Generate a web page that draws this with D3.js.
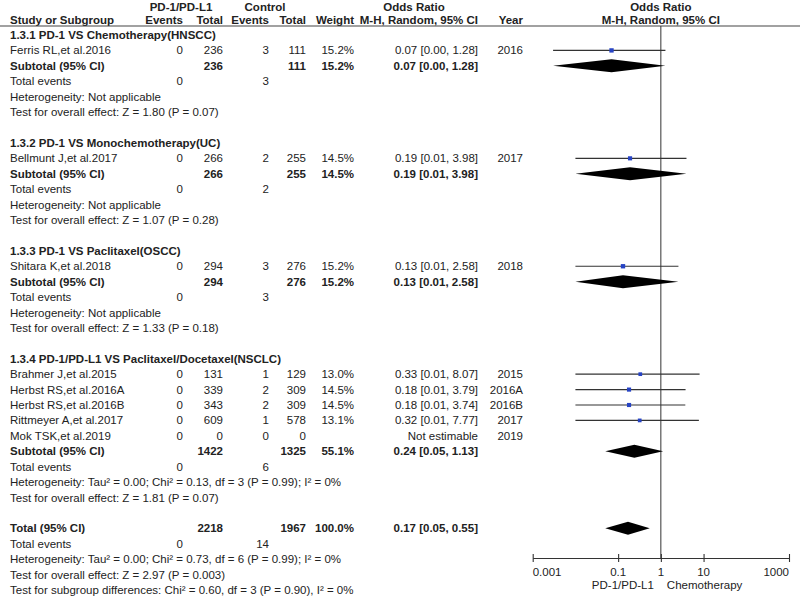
<!DOCTYPE html>
<html>
<head>
<meta charset="utf-8">
<script src="https://cdn.jsdelivr.net/npm/d3@7"></script>
<style>
  body { margin: 0; background: #fff; }
  text { font-family: "Liberation Sans", Arial, sans-serif; font-size: 11.5px; fill: #222; }
  .b { font-weight: bold; }
</style>
</head>
<body>
<div id="forest"></div>
<script>
// data
const groupTitles = ["1.3.1 PD-1 VS Chemotherapy(HNSCC)", "1.3.2 PD-1 VS Monochemotherapy(UC)",
  "1.3.3 PD-1 VS Paclitaxel(OSCC)", "1.3.4 PD-1/PD-L1 VS Paclitaxel/Docetaxel(NSCLC)"];
const studyNames = ["Ferris RL,et al.2016", "Bellmunt J,et al.2017", "Shitara K,et al.2018",
  "Brahmer J,et al.2015", "Herbst RS,et al.2016A", "Herbst RS,et al.2016B", "Rittmeyer A,et al.2017", "Mok TSK,et al.2019"];
const studyGroup = [0, 1, 2, 3, 3, 3, 3, 3];
const expEvents = [0, 0, 0, 0, 0, 0, 0, 0];
const expTotal = [236, 266, 294, 131, 339, 343, 609, 0];
const ctlEvents = [3, 2, 3, 1, 2, 2, 1, 0];
const ctlTotal = [111, 255, 276, 129, 309, 309, 578, 0];
const weights = [15.2, 14.5, 15.2, 13.0, 14.5, 14.5, 13.1, null];
const oddsRatio = [0.07, 0.19, 0.13, 0.33, 0.18, 0.18, 0.32, null];
const ciLow = [0.003, 0.01, 0.01, 0.01, 0.01, 0.01, 0.01, null];
const ciHigh = [1.28, 3.98, 2.58, 8.07, 3.79, 3.74, 7.77, null];
const years = ["2016", "2017", "2018", "2015", "2016A", "2016B", "2017", "2019"];

const subOR = [0.07, 0.19, 0.13, 0.24];
const subLow = [0.003, 0.01, 0.01, 0.05];
const subHigh = [1.28, 3.98, 2.58, 1.13];
const subHetero = ["Not applicable", "Not applicable", "Not applicable",
  "Tau\u00b2 = 0.00; Chi\u00b2 = 0.13, df = 3 (P = 0.99); I\u00b2 = 0%"];
const subEffect = ["Z = 1.80 (P = 0.07)", "Z = 1.07 (P = 0.28)", "Z = 1.33 (P = 0.18)", "Z = 1.81 (P = 0.07)"];

const totalOR = 0.17, totalLow = 0.05, totalHigh = 0.55;
const totalHetero = "Tau\u00b2 = 0.00; Chi\u00b2 = 0.73, df = 6 (P = 0.99); I\u00b2 = 0%";
const totalEffect = "Z = 2.97 (P = 0.003)";
const subgroupDiff = "Chi\u00b2 = 0.60, df = 3 (P = 0.90), I\u00b2 = 0%";

const axisTicks = [0.001, 0.1, 1, 10, 1000];
const axisLeftLabel = "PD-1/PD-L1", axisRightLabel = "Chemotherapy";

// layout
const width = 800, height = 596;
const col = {study: 10, expEv: 183, expTot: 223, ctlEv: 269, ctlTot: 306, weight: 354, or: 478, year: 523};
const f2 = d3.format(".2f");
const f1 = d3.format(".1f");
const orText = (o, l, h) => f2(o) + " [" + f2(l) + ", " + f2(h) + "]";

const svg = d3.select("#forest").append("svg")
  .attr("width", width).attr("height", height);

const y = d3.scaleLinear().domain([0, 36]).range([35, 590]);
const x = d3.scaleLog().domain([0.001, 1000]).range([532.7, 789]);
const axisY = 558, headLineY = 26, headTopY = 7;

// build rows
const rows = [];
let r = 0;
groupTitles.forEach((g, gi) => {
  rows.push({type: "group", i: gi, r: r++});
  studyGroup.forEach((sg, si) => { if (sg === gi) rows.push({type: "study", i: si, r: r++}); });
  rows.push({type: "sub", i: gi, r: r++});
  rows.push({type: "events", i: gi, r: r++});
  rows.push({type: "hetero", i: gi, r: r++});
  rows.push({type: "effect", i: gi, r: r++});
  r++;
});
const totalRow = r;

function txt(xp, yp, s, anchor, bold) {
  svg.append("text").attr("x", xp).attr("y", yp)
    .attr("dominant-baseline", "central")
    .attr("text-anchor", anchor || "start")
    .attr("class", bold ? "b" : null)
    .text(s);
}

// headers
txt(181, headTopY, "PD-1/PD-L1", "middle", true);
txt(265, headTopY, "Control", "middle", true);
txt(414, headTopY, "Odds Ratio", "middle", true);
txt(x(1), headTopY, "Odds Ratio", "middle", true);
txt(col.study, y(-1), "Study or Subgroup", "start", true);
txt(col.expEv, y(-1), "Events", "end", true);
txt(col.expTot, y(-1), "Total", "end", true);
txt(col.ctlEv, y(-1), "Events", "end", true);
txt(col.ctlTot, y(-1), "Total", "end", true);
txt(col.weight, y(-1), "Weight", "end", true);
txt(col.or, y(-1), "M-H, Random, 95% CI", "end", true);
txt(col.year, y(-1), "Year", "end", true);
txt(x(1), y(-1), "M-H, Random, 95% CI", "middle", true);

svg.append("line").attr("x1", 0).attr("x2", width)
  .attr("y1", headLineY).attr("y2", headLineY)
  .attr("stroke", "#444").attr("stroke-width", 1.2);

// no-effect line
svg.append("line").attr("x1", x(1)).attr("x2", x(1))
  .attr("y1", headLineY).attr("y2", axisY)
  .attr("stroke", "#333").attr("stroke-width", 1);

function diamond(o, l, h, yc) {
  const hh = 6.5;
  svg.append("path")
    .attr("d", "M" + x(l) + "," + yc + "L" + x(o) + "," + (yc - hh) +
      "L" + x(h) + "," + yc + "L" + x(o) + "," + (yc + hh) + "Z")
    .attr("fill", "#000");
}

const groupIdx = gi => studyGroup.map((g, i) => g === gi ? i : -1).filter(i => i >= 0);

rows.forEach(row => {
  const yy = y(row.r);
  const i = row.i;
  if (row.type === "group") {
    txt(col.study, yy, groupTitles[i], "start", true);
  } else if (row.type === "study") {
    txt(col.study, yy, studyNames[i]);
    txt(col.expEv, yy, expEvents[i], "end");
    txt(col.expTot, yy, expTotal[i], "end");
    txt(col.ctlEv, yy, ctlEvents[i], "end");
    txt(col.ctlTot, yy, ctlTotal[i], "end");
    if (weights[i] != null) txt(col.weight, yy, f1(weights[i]) + "%", "end");
    txt(col.or, yy, oddsRatio[i] == null ? "Not estimable" : orText(oddsRatio[i], ciLow[i], ciHigh[i]), "end");
    txt(col.year, yy, years[i], "end");
    if (oddsRatio[i] != null) {
      svg.append("line").attr("x1", x(ciLow[i])).attr("x2", x(ciHigh[i]))
        .attr("y1", yy).attr("y2", yy).attr("stroke", "#333").attr("stroke-width", 1.1);
      const s = weights[i] / 3.5;
      svg.append("rect").attr("x", x(oddsRatio[i]) - s / 2).attr("y", yy - s / 2)
        .attr("width", s).attr("height", s).attr("fill", "#2643c4");
    }
  } else if (row.type === "sub") {
    const idx = groupIdx(i);
    txt(col.study, yy, "Subtotal (95% CI)", "start", true);
    txt(col.expTot, yy, d3.sum(idx, k => expTotal[k]), "end", true);
    txt(col.ctlTot, yy, d3.sum(idx, k => ctlTotal[k]), "end", true);
    txt(col.weight, yy, f1(d3.sum(idx, k => weights[k] || 0)) + "%", "end", true);
    txt(col.or, yy, orText(subOR[i], subLow[i], subHigh[i]), "end", true);
    diamond(subOR[i], subLow[i], subHigh[i], yy);
  } else if (row.type === "events") {
    const idx = groupIdx(i);
    txt(col.study, yy, "Total events");
    txt(col.expEv, yy, d3.sum(idx, k => expEvents[k]), "end");
    txt(col.ctlEv, yy, d3.sum(idx, k => ctlEvents[k]), "end");
  } else if (row.type === "hetero") {
    txt(col.study, yy, "Heterogeneity: " + subHetero[i]);
  } else if (row.type === "effect") {
    txt(col.study, yy, "Test for overall effect: " + subEffect[i]);
  }
});

// overall total
let yy = y(totalRow);
txt(col.study, yy, "Total (95% CI)", "start", true);
txt(col.expTot, yy, d3.sum(expTotal), "end", true);
txt(col.ctlTot, yy, d3.sum(ctlTotal), "end", true);
txt(col.weight, yy, f1(d3.sum(weights, w => w || 0)) + "%", "end", true);
txt(col.or, yy, orText(totalOR, totalLow, totalHigh), "end", true);
diamond(totalOR, totalLow, totalHigh, yy);
yy = y(totalRow + 1);
txt(col.study, yy, "Total events");
txt(col.expEv, yy, d3.sum(expEvents), "end");
txt(col.ctlEv, yy, d3.sum(ctlEvents), "end");
txt(col.study, y(totalRow + 2), "Heterogeneity: " + totalHetero);
txt(col.study, y(totalRow + 3), "Test for overall effect: " + totalEffect);
txt(col.study, y(totalRow + 4), "Test for subgroup differences: " + subgroupDiff);

// log axis
const axis = svg.append("g").attr("transform", "translate(0," + axisY + ")");
axis.call(d3.axisBottom(x).tickValues(axisTicks).tickSize(0).tickFormat(""));
axis.select(".domain").attr("stroke", "#333").attr("stroke-width", 1.1);
axis.selectAll(".tick").each(function(d) {
  d3.select(this).append("line").attr("y1", -4).attr("y2", 4)
    .attr("stroke", "#333").attr("stroke-width", 1.1);
});
axisTicks.forEach((t, k) => {
  const anchor = k === 0 ? "start" : (k === axisTicks.length - 1 ? "end" : "middle");
  txt(x(t), axisY + 14, String(t), anchor);
});
txt(x(1) - 7, axisY + 27, axisLeftLabel, "end");
txt(x(1) + 6, axisY + 27, axisRightLabel, "start");
</script>
</body>
</html>
